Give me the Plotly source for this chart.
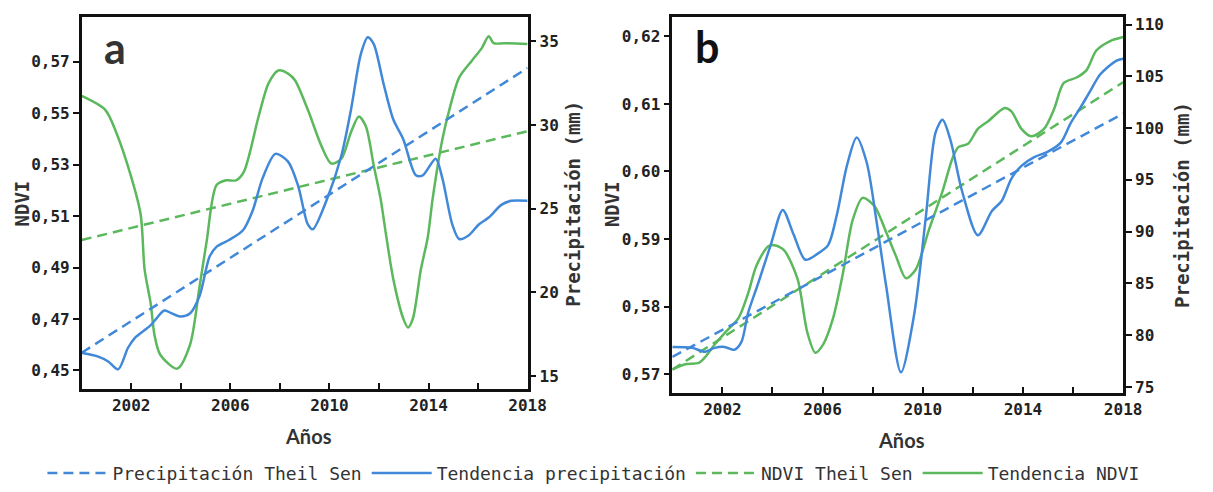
import plotly.graph_objects as go

# ---- Panel a: NDVI and precipitation trends ----
years_a_ndvi = [2000.0, 2000.95, 2001.39, 2001.98, 2002.38, 2002.54, 2002.78, 2002.94, 2003.17,
                2003.85, 2004.37, 2004.76, 2005.04, 2005.44, 2005.83, 2006.23, 2006.55, 2007.14,
                2007.54, 2007.94, 2008.33, 2008.61, 2009.13, 2009.68, 2010.08, 2010.48, 2010.87,
                2011.19, 2011.47, 2011.79, 2012.06, 2012.3, 2012.58, 2012.98, 2013.17, 2013.37,
                2013.69, 2013.97, 2014.17, 2014.56, 2014.84, 2015.24, 2015.75, 2016.15, 2016.43,
                2016.63, 2017.06, 2018.0]
ndvi_a = [0.5567, 0.5513, 0.5426, 0.5258, 0.5106, 0.4892, 0.4763, 0.4637, 0.4561,
          0.4507, 0.4599, 0.4828, 0.4999, 0.5220, 0.5239, 0.5239, 0.5273, 0.5487,
          0.5616, 0.5666, 0.5654, 0.5628, 0.5513, 0.5372, 0.5304, 0.5323, 0.5426,
          0.5487, 0.5449, 0.5296, 0.5170, 0.5018, 0.4854, 0.4702, 0.4667, 0.4702,
          0.4892, 0.5018, 0.5170, 0.5399, 0.5513, 0.5639, 0.5704, 0.5753, 0.5799,
          0.5772, 0.5772, 0.5769]

years_a_prec = [2000.0, 2000.67, 2001.07, 2001.47, 2001.87, 2002.14, 2002.78, 2003.33, 2003.57,
                2003.97, 2004.37, 2004.76, 2005.16, 2005.44, 2005.95, 2006.51, 2006.9, 2007.3,
                2007.82, 2008.33, 2008.73, 2009.13, 2009.33, 2009.92, 2010.48, 2010.87, 2011.27,
                2011.55, 2011.79, 2012.18, 2012.58, 2012.98, 2013.49, 2013.77, 2014.29, 2014.56,
                2014.96, 2015.24, 2015.63, 2016.03, 2016.43, 2016.94, 2017.34, 2018.0]
prec_a = [16.40, 16.17, 15.88, 15.41, 16.70, 17.28, 18.04, 18.92, 18.80,
          18.57, 18.74, 19.80, 22.13, 22.72, 23.13, 23.71, 24.88, 26.81,
          28.27, 27.81, 26.40, 24.06, 23.77, 25.64, 28.16, 30.91, 34.24,
          35.23, 34.82, 32.49, 30.32, 29.15, 26.99, 26.99, 27.98, 26.81,
          24.06, 23.19, 23.42, 24.06, 24.47, 25.23, 25.47, 25.47]

# Theil-Sen fitted lines (start / end of the period)
ts_years = [2000, 2018]
ts_prec_a = [16.4, 33.4]
ts_ndvi_a = [0.5007, 0.5430]

# ---- Panel b ----
years_b_ndvi = [2000.0, 2000.51, 2001.06, 2001.3, 2001.69, 2002.09, 2002.64, 2003.03, 2003.35,
                2003.82, 2004.06, 2004.45, 2005.0, 2005.39, 2005.71, 2006.02, 2006.42, 2006.81,
                2007.2, 2007.6, 2008.07, 2008.54, 2008.94, 2009.33, 2009.72, 2010.24, 2010.79,
                2011.18, 2011.42, 2011.81, 2012.2, 2012.6, 2013.27, 2013.54, 2013.94, 2014.33,
                2014.84, 2015.24, 2015.63, 2016.14, 2016.54, 2016.93, 2017.48, 2018.0]
ndvi_b = [0.5707, 0.5715, 0.5717, 0.5725, 0.5744, 0.5761, 0.5783, 0.5820, 0.5860,
          0.5889, 0.5891, 0.5884, 0.5841, 0.5762, 0.5732, 0.5744, 0.5783, 0.5849,
          0.5928, 0.5961, 0.5949, 0.5910, 0.5874, 0.5842, 0.5855, 0.5913, 0.5971,
          0.6019, 0.6036, 0.6041, 0.6063, 0.6074, 0.6094, 0.6089, 0.6063, 0.6052,
          0.6063, 0.6092, 0.6131, 0.6139, 0.6150, 0.6179, 0.6193, 0.6199]

years_b_prec = [2000.0, 2000.79, 2001.3, 2001.69, 2002.09, 2002.48, 2002.76, 2003.03, 2003.43,
                2003.94, 2004.41, 2004.84, 2005.31, 2005.79, 2006.22, 2006.57, 2006.97, 2007.36,
                2007.76, 2008.15, 2008.54, 2009.13, 2009.65, 2010.12, 2010.51, 2010.79, 2011.1,
                2011.57, 2012.2, 2012.76, 2013.15, 2013.54, 2013.94, 2014.45, 2014.96, 2015.51,
                2015.91, 2016.3, 2016.69, 2017.09, 2017.72, 2018.0]
prec_b = [78.87, 78.78, 78.40, 78.78, 78.87, 78.59, 79.35, 82.18, 85.02,
          88.80, 92.10, 89.74, 87.29, 87.85, 88.70, 91.63, 96.36, 99.10,
          96.70, 91.07, 84.73, 76.42, 81.90, 91.35, 99.57, 100.80, 98.90,
          93.90, 89.65, 92.00, 92.96, 95.13, 96.36, 97.20, 97.68, 98.60,
          100.50, 102.00, 103.60, 105.20, 106.50, 106.70]

ts_prec_b = [77.9, 101.4]
ts_ndvi_b = [0.5707, 0.6132]

# tick labels
x_tickvals = [2002, 2004, 2006, 2008, 2010, 2012, 2014, 2016, 2018]
x_ticktext = ["2002", "", "2006", "", "2010", "", "2014", "", "2018"]
ndvi_ticks_a = [0.45, 0.47, 0.49, 0.51, 0.53, 0.55, 0.57]
prec_ticks_a = [15, 20, 25, 30, 35]
ndvi_ticks_b = [0.57, 0.58, 0.59, 0.60, 0.61, 0.62]
prec_ticks_b = [75, 80, 85, 90, 95, 100, 105, 110]

BLUE = "#4189d8"
GREEN = "#5cb85d"
MONO = "DejaVu Sans Mono"
W, H = 1213, 492


def comma(v):
    return f"{v:.2f}".replace(".", ",")


fig = go.Figure()

panels = [
    dict(xa="x", yl="y", yr="y2", yn=years_a_ndvi, n=ndvi_a, yp=years_a_prec, p=prec_a,
         tsp=ts_prec_a, tsn=ts_ndvi_a, legend=True),
    dict(xa="x2", yl="y3", yr="y4", yn=years_b_ndvi, n=ndvi_b, yp=years_b_prec, p=prec_b,
         tsp=ts_prec_b, tsn=ts_ndvi_b, legend=False),
]
for pn in panels:
    fig.add_trace(go.Scatter(x=ts_years, y=pn["tsp"], mode="lines", xaxis=pn["xa"], yaxis=pn["yr"],
                             name="Precipitación Theil Sen", showlegend=pn["legend"],
                             line=dict(color=BLUE, width=2.5, dash="10px,6px")))
    fig.add_trace(go.Scatter(x=pn["yp"], y=pn["p"], mode="lines", xaxis=pn["xa"], yaxis=pn["yr"],
                             name="Tendencia precipitación", showlegend=pn["legend"],
                             line=dict(color=BLUE, width=2.5, shape="spline", smoothing=0.8)))
    fig.add_trace(go.Scatter(x=ts_years, y=pn["tsn"], mode="lines", xaxis=pn["xa"], yaxis=pn["yl"],
                             name="NDVI Theil Sen", showlegend=pn["legend"],
                             line=dict(color=GREEN, width=2.5, dash="10px,6px")))
    fig.add_trace(go.Scatter(x=pn["yn"], y=pn["n"], mode="lines", xaxis=pn["xa"], yaxis=pn["yl"],
                             name="Tendencia NDVI", showlegend=pn["legend"],
                             line=dict(color=GREEN, width=2.5, shape="spline", smoothing=0.8)))

tickfont = dict(family=MONO, size=16, color="#222", weight="bold")
common_x = dict(range=[2000, 2018], tickvals=x_tickvals, ticktext=x_ticktext, ticks="inside",
                ticklen=6, tickwidth=2, tickcolor="#111", showline=True, linewidth=2.5,
                linecolor="#111", mirror=True, showgrid=False, zeroline=False, tickfont=tickfont)
common_y = dict(ticks="outside", ticklen=6, tickwidth=2, tickcolor="#111", showline=True,
                linewidth=2.5, linecolor="#111", showgrid=False, zeroline=False, tickfont=tickfont)

fig.update_layout(
    width=W, height=H,
    margin=dict(l=0, r=0, t=0, b=0),
    paper_bgcolor="white", plot_bgcolor="white",
    xaxis=dict(domain=[83 / W, 536 / W], anchor="y", **common_x),
    yaxis=dict(domain=[1 - 395 / H, 1 - 15 / H], anchor="x", range=[0.4428, 0.5875],
               tickvals=ndvi_ticks_a, ticktext=[comma(v) for v in ndvi_ticks_a], **common_y),
    yaxis2=dict(overlaying="y", side="right", anchor="x", range=[14.24, 36.46],
                tickvals=prec_ticks_a, ticktext=[str(v) for v in prec_ticks_a], **common_y),
    xaxis2=dict(domain=[683 / W, 1141 / W], anchor="y3", **common_x),
    yaxis3=dict(domain=[1 - 399 / H, 1 - 15 / H], anchor="x2", range=[0.56725, 0.6229],
                tickvals=ndvi_ticks_b, ticktext=[comma(v) for v in ndvi_ticks_b], **common_y),
    yaxis4=dict(overlaying="y3", side="right", anchor="x2", range=[74.43, 110.76],
                tickvals=prec_ticks_b, ticktext=[str(v) for v in prec_ticks_b], **common_y),
    legend=dict(orientation="h", x=0.497, xanchor="center", y=1 - 481 / H, yanchor="middle",
                font=dict(family=MONO, size=18, color="#333"), bgcolor="rgba(0,0,0,0)",
                itemwidth=60, tracegroupgap=0),
    showlegend=True,
)

title_font = dict(family=MONO, size=19, color="#333", weight="bold")
annots = [
    dict(text="a", x=117 / W, y=1 - 46 / H, font=dict(family="Lato", size=43, color="#333", weight="bold")),
    dict(text="b", x=718 / W, y=1 - 45 / H, font=dict(family="Lato", size=43, color="#111", weight="bold")),
    dict(text="NDVI", x=22 / W, y=1 - 206 / H, textangle=-90, font=title_font),
    dict(text="NDVI", x=622 / W, y=1 - 206 / H, textangle=-90, font=title_font),
    dict(text="Precipitación (mm)", x=582 / W, y=1 - 206 / H, textangle=-90, font=title_font),
    dict(text="Precipitación (mm)", x=1201 / W, y=1 - 207 / H, textangle=-90, font=title_font),
    dict(text="Años", x=313 / W, y=1 - 443 / H, font=dict(family="Lato", size=20, color="#333", weight="bold")),
    dict(text="Años", x=916 / W, y=1 - 447 / H, font=dict(family="Lato", size=20, color="#333", weight="bold")),
]
for a in annots:
    fig.add_annotation(xref="paper", yref="paper", showarrow=False, xanchor="center",
                       yanchor="middle", **a)

fig.write_html("out.html")
